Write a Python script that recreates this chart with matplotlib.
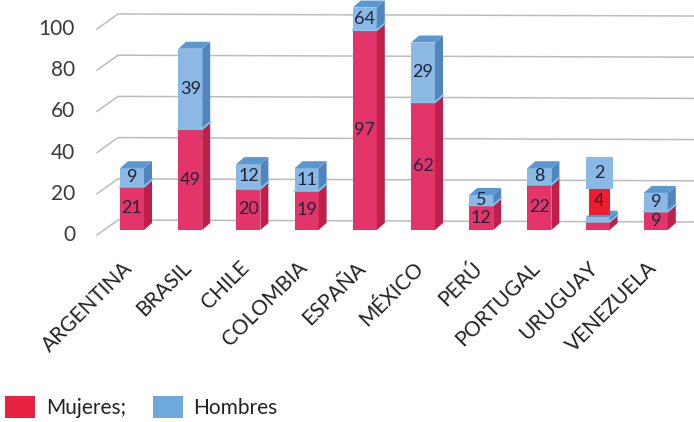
import matplotlib.pyplot as plt
from matplotlib.patches import Rectangle, Polygon, Patch

paises = ['ARGENTINA', 'BRASIL', 'CHILE', 'COLOMBIA', 'ESPAÑA', 'MÉXICO',
          'PERÚ', 'PORTUGAL', 'URUGUAY', 'VENEZUELA']
mujeres = [21, 49, 20, 19, 97, 62, 12, 22, 4, 9]
hombres = [9, 39, 12, 11, 64, 29, 5, 8, 2, 9]
ticks = [0, 20, 40, 60, 80, 100]

plt.rcParams['font.family'] = ['Lato', 'DejaVu Sans']

# pixel scale of the chart (one category step, one value unit)
PX_X = 58.2
PX_Y = 2.06
X0 = 132   # pixel x of first category
Y0 = 230   # pixel y of value 0 (front of bars)

fig = plt.figure(figsize=(6.94, 4.22), dpi=100)
ax = fig.add_axes([0, 0, 1, 1])
ax.set_xlim(-X0 / PX_X, (694 - X0) / PX_X)
ax.set_ylim((Y0 - 422) / PX_Y, Y0 / PX_Y)
ax.axis('off')

w = 24 / PX_X
dx = 8 / PX_X
dy = 7 / PX_Y
cap = 108  # top of visible plot area

rojo, rojo_lado, rojo_top = '#e4356a', '#c01f4c', '#d9466c'
azul, azul_lado, azul_top = '#8cb8e4', '#4f86c0', '#5b98d2'
grid_c = '#bcbcbc'

# back wall gridlines with the little 3D diagonal at the left
for v in ticks:
    xs = [(97 - X0) / PX_X, (118 - X0) / PX_X, (694 - X0) / PX_X]
    ys = [v - 5 / PX_Y, v + 10 / PX_Y, v + 10 / PX_Y - 2 / PX_Y]
    ax.plot(xs, ys, color=grid_c, lw=1.1, zorder=1)
    ax.text((75 - X0) / PX_X, v - 2.4, str(v), ha='right', va='center',
            fontsize=15, color='#3a3a3a')


def segmento(x, y0, y1, front, side):
    ax.add_patch(Rectangle((x - w / 2, y0), w, y1 - y0, facecolor=front,
                           edgecolor='none', zorder=3))
    ax.add_patch(Polygon([(x + w / 2, y0), (x + w / 2 + dx, y0 + dy),
                          (x + w / 2 + dx, y1 + dy), (x + w / 2, y1)],
                         closed=True, facecolor=side, edgecolor='none', zorder=3))


def tapa(x, y, color):
    ax.add_patch(Polygon([(x - w / 2, y), (x + w / 2, y), (x + w / 2 + dx, y + dy),
                          (x - w / 2 + dx, y + dy)], closed=True,
                         facecolor=color, edgecolor='none', zorder=3))


for i, (pais, m, h) in enumerate(zip(paises, mujeres, hombres)):
    top_m = min(m, cap)
    top_h = min(m + h, cap)
    segmento(i, 0, top_m, rojo, rojo_lado)
    segmento(i, top_m, top_h, azul, azul_lado)
    tapa(i, top_h, azul_top)
    ax.plot([i - w / 2, i + w / 2, i + w / 2 + dx], [top_m, top_m, top_m + dy],
            color='#6fd0f0', lw=1.3, zorder=4)

    if pais == 'URUGUAY':
        # labels drawn in floating boxes, as in the original
        ax.text(i + 0.03, 14, str(m), ha='center', va='center', fontsize=13,
                color='#1c2539', zorder=5,
                bbox=dict(boxstyle='square,pad=0.3', facecolor='#ee1c2c',
                          edgecolor='none'))
        ax.text(i + 0.03, 27.5, str(h), ha='center', va='center', fontsize=13,
                color='#1c2539', zorder=5,
                bbox=dict(boxstyle='square,pad=0.45', facecolor=azul,
                          edgecolor='none'))
    else:
        ax.text(i, top_m / 2, str(m), ha='center', va='center', fontsize=13,
                color='#1c2539', zorder=5)
        ax.text(i, (top_m + top_h) / 2, str(h), ha='center', va='center',
                fontsize=13, color='#1c2539', zorder=5)

    ax.text(i - 0.16, -13.5, pais, rotation=45, ha='right', va='top',
            rotation_mode='anchor', fontsize=15, color='#222222')

handles = [Patch(facecolor='#e8233f', edgecolor='none'),
           Patch(facecolor='#6fa8dc', edgecolor='none')]
fig.legend(handles, ['Mujeres;', 'Hombres'], loc='lower left',
           bbox_to_anchor=(5 / 694, 4 / 422), frameon=False, fontsize=15,
           handlelength=1.45, handleheight=1.2, handletextpad=0.5,
           columnspacing=1.3, ncol=2, borderpad=0, borderaxespad=0,
           labelcolor='#222222')

fig.savefig('out.png', dpi=100)
